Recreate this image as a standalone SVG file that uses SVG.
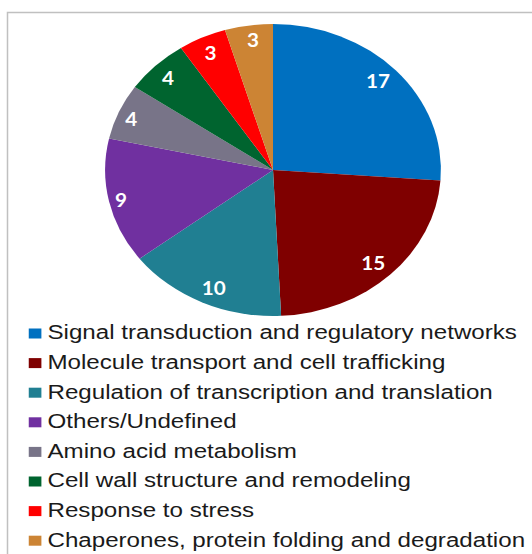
<svg xmlns="http://www.w3.org/2000/svg" width="532" height="554" viewBox="0 0 532 554">
<style>
  .lbl { font-family: Lato, "Liberation Sans", sans-serif; font-weight: bold; font-size: 18px; fill: #FFFFFF; text-anchor: middle; }
  .leg { font-family: "Liberation Sans", Arial, sans-serif; font-size: 21px; fill: #1A1A1A; }
  .frame { fill: none; stroke: #C0C0C0; stroke-width: 1.5; }
</style>
<rect x="0" y="0" width="532" height="554" fill="#FFFFFF"/>
<path class="frame" d="M7.5,554 L7.5,12.5 L532,12.5"/>
<g transform="scale(1.15 1)">
  <g id="pie">
    <g id="slice-signal">
      <path d="M237.4,170 L237.4,24 A146,146 0 0 1 383.02,180.57 Z" fill="#0070C0"/>
      <text class="lbl" x="328.7" y="88.5">17</text>
    </g>
    <g id="slice-molecule">
      <path d="M237.4,170 L383.02,180.57 A146,146 0 0 1 244.45,315.83 Z" fill="#7F0000"/>
      <text class="lbl" x="324.6" y="270.5">15</text>
    </g>
    <g id="slice-regulation">
      <path d="M237.4,170 L244.45,315.83 A146,146 0 0 1 121.39,258.65 Z" fill="#207F92"/>
      <text class="lbl" x="185.9" y="295.5">10</text>
    </g>
    <g id="slice-others">
      <path d="M237.4,170 L121.39,258.65 A146,146 0 0 1 94.84,138.49 Z" fill="#7030A0"/>
      <text class="lbl" x="105.3" y="207">9</text>
    </g>
    <g id="slice-amino">
      <path d="M237.4,170 L94.84,138.49 A146,146 0 0 1 117.24,87.06 Z" fill="#787488"/>
      <text class="lbl" x="114.2" y="126.5">4</text>
    </g>
    <g id="slice-cellwall">
      <path d="M237.4,170 L117.24,87.06 A146,146 0 0 1 157.36,47.90 Z" fill="#00642F"/>
      <text class="lbl" x="146.1" y="85">4</text>
    </g>
    <g id="slice-stress">
      <path d="M237.4,170 L157.36,47.90 A146,146 0 0 1 195.64,30.10 Z" fill="#FF0000"/>
      <text class="lbl" x="183" y="60.5">3</text>
    </g>
    <g id="slice-chaperones">
      <path d="M237.4,170 L195.64,30.10 A146,146 0 0 1 237.4,24 Z" fill="#CC8434"/>
      <text class="lbl" x="220" y="47.5">3</text>
    </g>
  </g>
  <g id="legend">
    <g id="legend-signal"><rect x="25" y="328.5" width="11" height="10" fill="#0070C0"/><text class="leg" x="41.3" y="339.5">Signal transduction and regulatory networks</text></g>
    <g id="legend-molecule"><rect x="25" y="358.1" width="11" height="10" fill="#7F0000"/><text class="leg" x="41.3" y="369.1">Molecule transport and cell trafficking</text></g>
    <g id="legend-regulation"><rect x="25" y="387.7" width="11" height="10" fill="#207F92"/><text class="leg" x="41.3" y="398.7">Regulation of transcription and translation</text></g>
    <g id="legend-others"><rect x="25" y="417.3" width="11" height="10" fill="#7030A0"/><text class="leg" x="41.3" y="428.3">Others/Undefined</text></g>
    <g id="legend-amino"><rect x="25" y="446.9" width="11" height="10" fill="#787488"/><text class="leg" x="41.3" y="457.9">Amino acid metabolism</text></g>
    <g id="legend-cellwall"><rect x="25" y="476.5" width="11" height="10" fill="#00642F"/><text class="leg" x="41.3" y="487.5">Cell wall structure and remodeling</text></g>
    <g id="legend-stress"><rect x="25" y="506.1" width="11" height="10" fill="#FF0000"/><text class="leg" x="41.3" y="517.1">Response to stress</text></g>
    <g id="legend-chaperones"><rect x="25" y="535.7" width="11" height="10" fill="#CC8434"/><text class="leg" x="41.3" y="546.7">Chaperones, protein folding and degradation</text></g>
  </g>
</g>
</svg>
